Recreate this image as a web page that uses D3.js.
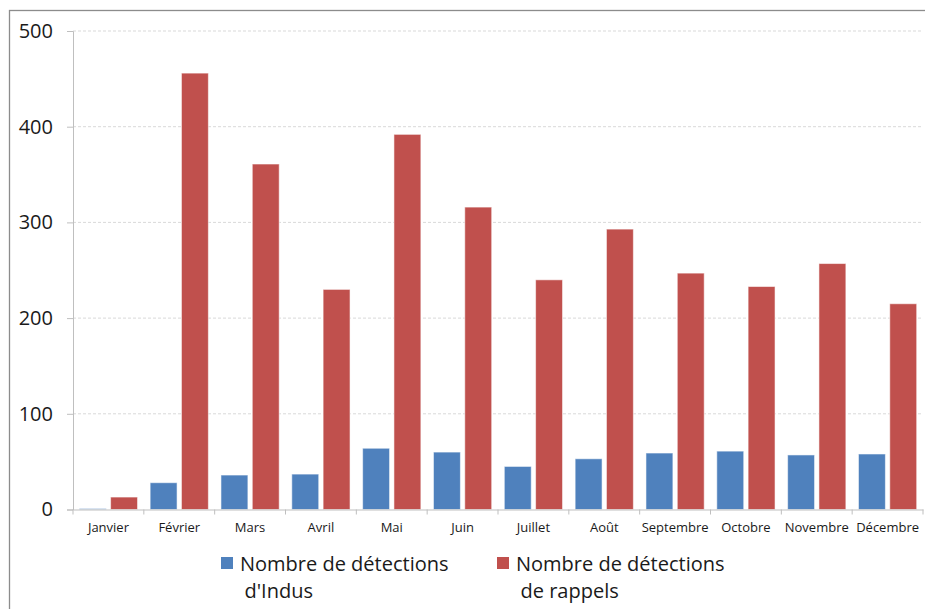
<!DOCTYPE html>
<html>
<head>
<meta charset="utf-8">
<script src="https://cdn.jsdelivr.net/npm/d3@7"></script>
<style>
  html, body { margin: 0; padding: 0; background: #fff; }
  svg { display: block; font-family: "Open Sans", sans-serif; }
</style>
</head>
<body>
<svg id="chart" width="925" height="609"></svg>
<script>
// Monthly detection counts
const months = ["Janvier", "Février", "Mars", "Avril", "Mai", "Juin",
                "Juillet", "Août", "Septembre", "Octobre", "Novembre", "Décembre"];
const indus   = [1, 28, 36, 37, 64, 60, 45, 53, 59, 61, 57, 58];
const rappels = [13, 456, 361, 230, 392, 316, 240, 293, 247, 233, 257, 215];
const yTicks = [0, 100, 200, 300, 400, 500];
const seriesKeys = ["indus", "rappels"];
const seriesNames = [["Nombre de détections", "d'Indus"], ["Nombre de détections", "de rappels"]];
const seriesColors = ["#4F81BD", "#C0504D"];

const svg = d3.select("#chart");

// outer frame
svg.append("rect")
  .attr("x", 9.5).attr("y", 10.5)
  .attr("width", 930).attr("height", 620)
  .attr("fill", "none").attr("stroke", "#8c8c8c").attr("stroke-width", 1.3);

const plotLeft = 73, plotRight = 923, plotTop = 31, plotBottom = 509.5;

const y = d3.scaleLinear().domain([0, 500]).range([plotBottom, plotTop]);
const x0 = d3.scaleBand().domain(months).range([plotLeft, plotRight]).padding(0);
const x1 = d3.scaleBand().domain(seriesKeys).range([6.3, x0.bandwidth() - 6.3]).paddingInner(0.14);

// horizontal gridlines
svg.append("g")
  .selectAll("line")
  .data(yTicks.filter(d => d > 0))
  .join("line")
  .attr("x1", plotLeft).attr("x2", plotRight)
  .attr("y1", d => y(d)).attr("y2", d => y(d))
  .attr("stroke", "#d9d9d9").attr("stroke-width", 1)
  .attr("stroke-dasharray", "3,2");

// bars
const rows = months.map((m, i) => ({ month: m, indus: indus[i], rappels: rappels[i] }));
const groups = svg.append("g")
  .selectAll("g")
  .data(rows)
  .join("g")
  .attr("transform", d => `translate(${x0(d.month)},0)`);

groups.selectAll("rect")
  .data(d => seriesKeys.map((k, j) => ({ key: k, value: d[k], color: seriesColors[j] })))
  .join("rect")
  .attr("x", d => x1(d.key))
  .attr("width", x1.bandwidth())
  .attr("y", d => y(d.value))
  .attr("height", d => y(0) - y(d.value))
  .attr("fill", d => d.color)
  .attr("stroke", "rgba(255,255,255,0.55)")
  .attr("stroke-width", 1);

// y axis
const yAxis = svg.append("g")
  .attr("transform", `translate(${plotLeft},0)`)
  .call(d3.axisLeft(y).tickValues(yTicks).tickSize(6).tickPadding(14).tickFormat(d3.format("d")));
yAxis.select(".domain").attr("stroke", "#bfbfbf");
yAxis.selectAll(".tick line").attr("stroke", "#bfbfbf");
yAxis.selectAll(".tick text")
  .attr("font-size", 20).attr("fill", "#1a1a1a")
  .attr("font-family", "Open Sans, sans-serif");

// x axis
const xAxis = svg.append("g")
  .attr("transform", `translate(0,${plotBottom})`)
  .call(d3.axisBottom(x0).tickSize(0).tickPadding(13));
xAxis.select(".domain").attr("stroke", "#bfbfbf");
xAxis.selectAll(".tick text")
  .attr("font-size", 13).attr("fill", "#1a1a1a")
  .attr("font-family", "Open Sans, sans-serif");

// category separator ticks
const boundaries = months.map(m => x0(m)).concat([plotRight]);
svg.append("g")
  .selectAll("line")
  .data(boundaries)
  .join("line")
  .attr("x1", d => d).attr("x2", d => d)
  .attr("y1", plotBottom).attr("y2", plotBottom + 5)
  .attr("stroke", "#bfbfbf");

// legend
const legendX = [221, 497];
const legend = svg.append("g")
  .selectAll("g")
  .data(seriesKeys)
  .join("g")
  .attr("transform", (d, i) => `translate(${legendX[i]},557)`);
legend.append("rect")
  .attr("width", 12).attr("height", 12)
  .attr("fill", (d, i) => seriesColors[i]);
legend.each(function(d, i) {
  const g = d3.select(this);
  g.append("text").attr("x", 19).attr("y", 13.5)
    .attr("font-size", 20).attr("fill", "#1a1a1a").text(seriesNames[i][0]);
  g.append("text").attr("x", 23.5).attr("y", 41)
    .attr("font-size", 20).attr("fill", "#1a1a1a").text(seriesNames[i][1]);
});
</script>
</body>
</html>
